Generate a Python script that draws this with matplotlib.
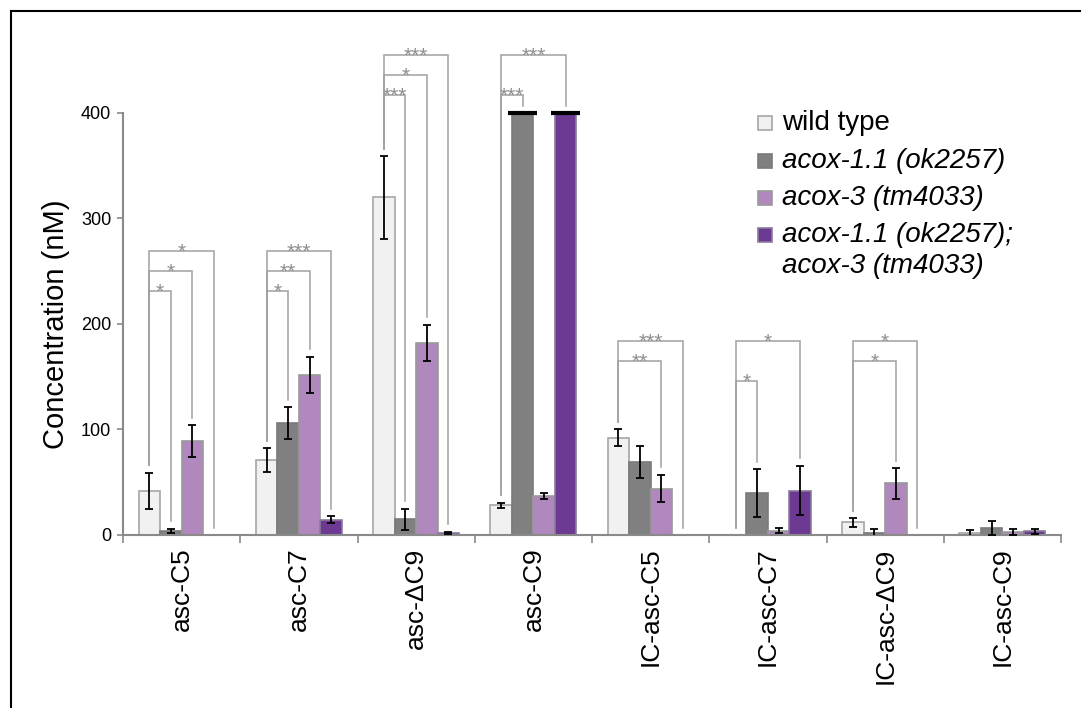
import numpy as np
import matplotlib.pyplot as plt
from matplotlib.lines import Line2D
from matplotlib.patches import Rectangle

plt.rcParams['font.family'] = ['Liberation Sans', 'DejaVu Sans']

compounds = ['asc-C5', 'asc-C7', 'asc-\u0394C9', 'asc-C9',
             'IC-asc-C5', 'IC-asc-C7', 'IC-asc-\u0394C9', 'IC-asc-C9']
strains = ['wild type', 'acox-1.1 (ok2257)', 'acox-3 (tm4033)',
           'acox-1.1 (ok2257);\nacox-3 (tm4033)']

wild_type = [42, 71, 320, 28, 92, 0, 12, 1.5]
wild_type_err = [17, 11, 39, 2.5, 8, 0, 4, 3]
acox1 = [4, 106, 15, 400, 69, 40, 2, 6.5]
acox1_err = [2, 15, 10, 0, 15, 22.5, 3.5, 6.5]
acox3 = [89, 152, 182, 37, 44, 4, 49, 2.5]
acox3_err = [15, 17, 17.5, 3, 13, 2.5, 14.5, 3]
double = [0, 14.5, 2, 400, 0, 42, 0, 3.5]
double_err = [0, 3.5, 1, 0, 0, 23.5, 0, 2.5]

# (compound, strain compared with wild type, bracket height, stars)
signif = [(0, 1, 231, '*'), (0, 2, 250, '*'), (0, 3, 269, '*'),
          (1, 1, 231, '*'), (1, 2, 250, '**'), (1, 3, 269, '***'),
          (2, 1, 417, '***'), (2, 2, 436, '*'), (2, 3, 455, '***'),
          (3, 1, 417, '***'), (3, 3, 455, '***'),
          (4, 2, 165, '**'), (4, 3, 184, '***'),
          (5, 1, 146, '*'), (5, 3, 184, '*'),
          (6, 2, 165, '*'), (6, 3, 184, '*')]

off_scale = 400

means = [wild_type, acox1, acox3, double]
errs = [wild_type_err, acox1_err, acox3_err, double_err]
colors = ['#f1f1f1', '#808080', '#b088bd', '#6d3a93']
edges = ['#a6a6a6', '#7a7a7a', '#9a9a9a', '#8a7a9a']

W, H = 1081, 708
fig = plt.figure(figsize=(W / 100, H / 100), dpi=100)
ax = fig.add_axes([0.1138, 0.2444, 0.8677, 0.745])

x = np.arange(len(compounds))
w = 0.183
offsets = (np.arange(4) - 1.5) * w

for m, e, c, ec, off in zip(means, errs, colors, edges, offsets):
    m = np.array(m, dtype=float)
    e = np.array(e, dtype=float)
    ax.bar(x + off, m, w, color=c, edgecolor=ec, lw=1.2, zorder=2)
    keep = (m > 0) & (e > 0)
    ax.errorbar(x[keep] + off, m[keep], yerr=e[keep], fmt='none',
                ecolor='black', elinewidth=1.3, capsize=2.8, capthick=1.3,
                zorder=3)
    over = m >= off_scale
    if over.any():
        ax.hlines(m[over], x[over] + off - w / 2 - 0.035,
                  x[over] + off + w / 2 + 0.035, color='black', lw=3,
                  zorder=4)

# significance brackets
gap = 7
for g, s, level, stars in signif:
    x0 = x[g] + offsets[0]
    x1 = x[g] + offsets[s]
    y0 = wild_type[g] + wild_type_err[g] + gap
    y1 = means[s][g] + errs[s][g] + gap
    ax.plot([x0, x0, x1, x1], [y0, level, level, y1], color='#a0a0a0',
            lw=1.1, zorder=1, solid_joinstyle='miter')
    ax.annotate(stars, xy=((x0 + x1) / 2, level), xytext=(0, -5),
                textcoords='offset points', ha='center', va='baseline',
                fontsize=15, color='#8e8e8e')

ax.set_xlim(-0.5, 7.5)
ax.set_ylim(0, 500)
for side in ['top', 'right']:
    ax.spines[side].set_visible(False)
for side in ['left', 'bottom']:
    ax.spines[side].set_color('#8a8a8a')
    ax.spines[side].set_linewidth(1.5)
ax.spines['left'].set_bounds(0, 400)

ax.set_xticks(x)
ax.set_xticklabels(compounds, rotation=90, fontsize=19)
ax.set_xticks(np.arange(-0.5, 8, 1), minor=True)
ax.tick_params(axis='x', which='major', length=0, pad=9)
ax.tick_params(axis='x', which='minor', length=5.5, width=1.2,
               color='#8a8a8a')

ax.set_yticks([0, 100, 200, 300, 400])
ax.tick_params(axis='y', length=4.5, width=1.2, color='#8a8a8a',
               labelsize=13, pad=4)
ax.set_ylabel('Concentration (nM)', fontsize=21)
ax.yaxis.set_label_coords(-0.0565, 0.4)

# legend: square sitting on the baseline of the first line of each entry
row_base = 130  # px from top, baseline of first row
row_step = 37.5
line_step = 30
for i, (lab, c, ec) in enumerate(zip(strains, colors, edges)):
    base = row_base + i * row_step
    fig.add_artist(Rectangle((758 / W, 1 - base / H), 14 / W, 14 / H,
                             facecolor=c, edgecolor=ec, lw=1.2,
                             transform=fig.transFigure))
    for j, line in enumerate(lab.split('\n')):
        fig.text(782 / W, 1 - (base + j * line_step) / H, line, fontsize=20,
                 va='baseline', ha='left',
                 style='normal' if i == 0 else 'italic')

# outer frame (top and left edges only)
fig.add_artist(Line2D([0.0098, 0.0098], [0, 0.9845], color='black', lw=1.5,
                      transform=fig.transFigure))
fig.add_artist(Line2D([0.0098, 1], [0.9845, 0.9845], color='black', lw=1.5,
                      transform=fig.transFigure))

fig.savefig('out.png', dpi=100)
